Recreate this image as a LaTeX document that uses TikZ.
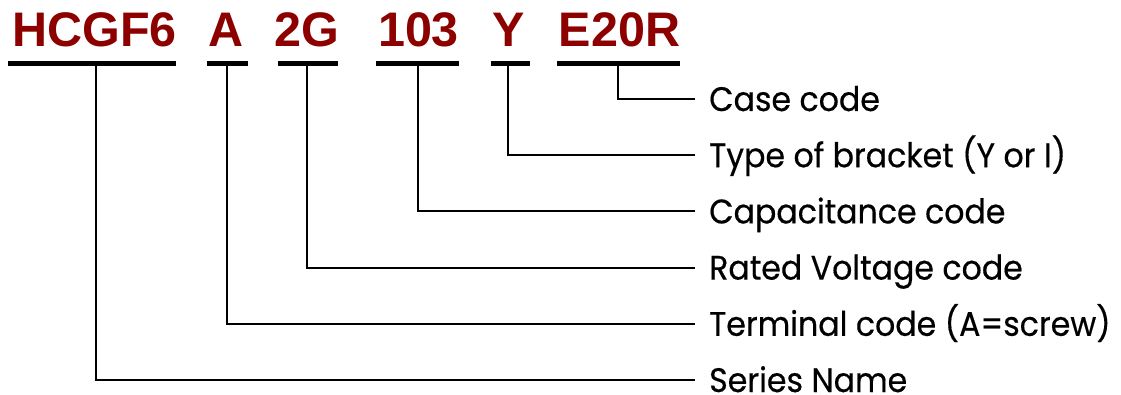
\documentclass[tikz,border=0pt]{standalone}
\usepackage{fontspec}
\setmainfont{Liberation Sans}
\newfontfamily\codefont{Liberation Sans}
\newfontfamily\labelfont[FakeStretch=0.93,FakeBold=0.4]{Poppins}
\definecolor{codered}{RGB}{140,0,0}
\begin{document}
\begin{tikzpicture}[x=1pt,y=-1pt,
  codetext/.style={anchor=base,inner sep=0pt,text=codered,font=\codefont\fontsize{48.5}{50}\selectfont\bfseries},
  uline/.style={line width=5pt},
  conn/.style={line width=2pt},
  lbl/.style={anchor=west,inner sep=0pt,text height=24pt,text depth=0pt,font=\labelfont\fontsize{34}{36}\selectfont}
]
\useasboundingbox (0,0) rectangle (1121,395);
% codes
\node[codetext] (c1) at (94.5,47) {HCGF6};
\node[codetext] (c2) at (226,47) {A};
\node[codetext] (c3) at (306.5,47) {2G};
\node[codetext] (c4) at (418.5,47) {103};
\node[codetext] (c5) at (508.5,47) {Y};
\node[codetext] (c6) at (619.5,47) {E20R};
% underlines
\draw[uline] (8,63.5) -- (176,63.5);
\draw[uline] (207,63.5) -- (248,63.5);
\draw[uline] (278,63.5) -- (338,63.5);
\draw[uline] (376,63.5) -- (459,63.5);
\draw[uline] (491,63.5) -- (530,63.5);
\draw[uline] (557,63.5) -- (680,63.5);
\coordinate (u1) at (96,64);
\coordinate (u2) at (227,64);
\coordinate (u3) at (307,64);
\coordinate (u4) at (418,64);
\coordinate (u5) at (508,64);
\coordinate (u6) at (618,64);
% labels
\node[lbl] (l6) at (709,99) {Case code};
\node[lbl] (l5) at (709,155.2) {Type of bracket (Y or I)};
\node[lbl] (l4) at (709,211.4) {Capacitance code};
\node[lbl] (l3) at (709,267.6) {Rated Voltage code};
\node[lbl] (l2) at (709,323.8) {Terminal code (A=screw)};
\node[lbl] (l1) at (709,380) {Series Name};
% connectors
\foreach \i in {1,...,6}{
  \draw[conn] (u\i) |- ([xshift=-14pt]l\i.west);
}
\end{tikzpicture}
\end{document}
